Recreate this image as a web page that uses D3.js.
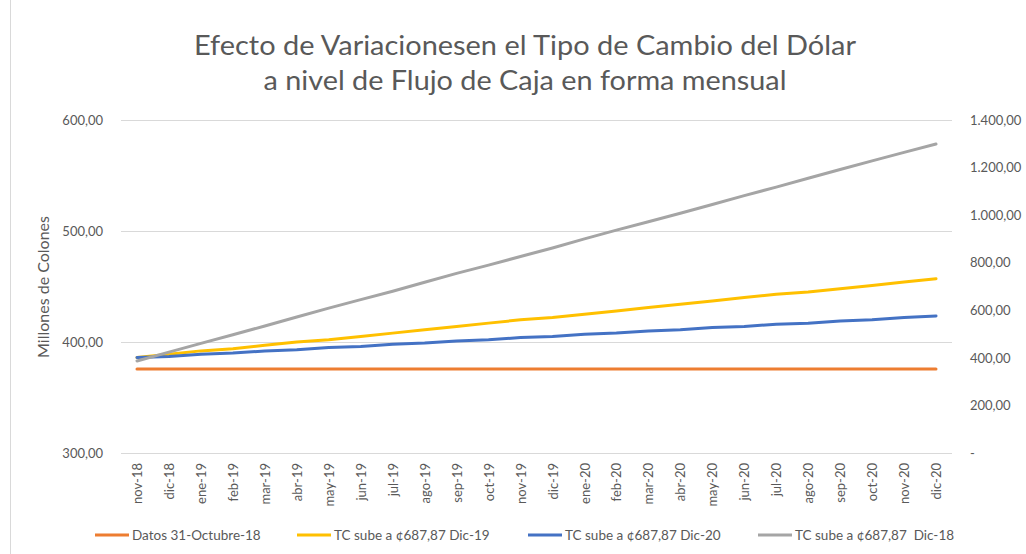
<!DOCTYPE html>
<html>
<head>
<meta charset="utf-8">
<script src="https://cdn.jsdelivr.net/npm/d3@7"></script>
<style>
  html, body { margin: 0; padding: 0; background: #ffffff; }
  svg { display: block; font-family: Lato, "Open Sans", sans-serif; }
</style>
</head>
<body>
<svg id="chart" width="1026" height="554"></svg>
<script>
// ---------------- data ----------------
const titleLines = ["Efecto de Variacionesen el Tipo de Cambio del Dólar", "a nivel de Flujo de Caja en forma mensual"];
const yAxisTitle = "Millones de Colones";

const months = ["nov-18","dic-18","ene-19","feb-19","mar-19","abr-19","may-19","jun-19","jul-19","ago-19","sep-19","oct-19","nov-19","dic-19",
                "ene-20","feb-20","mar-20","abr-20","may-20","jun-20","jul-20","ago-20","sep-20","oct-20","nov-20","dic-20"];

const leftTicks = [300, 400, 500, 600];
const rightTicks = [0, 200, 400, 600, 800, 1000, 1200, 1400];

const seriesNames = ["Datos 31-Octubre-18", "TC sube a ¢687,87 Dic-19", "TC sube a ¢687,87 Dic-20", "TC sube a ¢687,87  Dic-18"];
const seriesColors = ["#ED7D31", "#FFC000", "#4472C4", "#A5A5A5"];
const seriesAxis = ["left", "left", "left", "right"];

const datosOct18 = [375.6,375.6,375.6,375.6,375.6,375.6,375.6,375.6,375.6,375.6,375.6,375.6,375.6,375.6,375.6,375.6,375.6,375.6,375.6,375.6,375.6,375.6,375.6,375.6,375.6,375.6];
const tcDic19 = [386,389,392,394,397,400,402,405,408,411,414,417,420,422,425,428,431,434,437,440,443,445,448,451,454,457];
const tcDic20 = [386,387,389,390,392,393,395,396,398,399,401,402,404,405,407,408,410,411,413,414,416,417,419,420,422,423.5];
const tcDic18 = [387,424,461,497,534,572,609,645,680,718,755,790,826,862,900,937,972,1008,1045,1082,1118,1155,1192,1228,1264,1299];

const seriesValues = [datosOct18, tcDic19, tcDic20, tcDic18];

// ---------------- layout ----------------
const svg = d3.select("#chart");
const plot = { left: 121, right: 952, top: 120, bottom: 453 };
const textColor = "#595959";
const gridColor = "#d9d9d9";

const locale = d3.formatLocale({ decimal: ",", thousands: ".", grouping: [3], currency: ["", ""] });
const fmt = locale.format(",.2f");

const x = d3.scalePoint().domain(months).range([plot.left, plot.right]).padding(0.5);
const yL = d3.scaleLinear().domain([300, 600]).range([plot.bottom, plot.top]);
const yR = d3.scaleLinear().domain([0, 1400]).range([plot.bottom, plot.top]);

// chart border (left edge)
svg.append("line").attr("x1", 10.5).attr("x2", 10.5).attr("y1", 0).attr("y2", 554)
  .attr("stroke", gridColor).attr("stroke-width", 1);

// title
const titleWidths = [662, 523];
svg.append("g").selectAll("text").data(titleLines).join("text")
  .attr("x", 525).attr("y", (d, i) => 55 + i * 35)
  .attr("text-anchor", "middle")
  .attr("font-size", 27)
  .attr("fill", textColor)
  .attr("textLength", (d, i) => titleWidths[i])
  .attr("lengthAdjust", "spacingAndGlyphs")
  .text(d => d);

// gridlines (left axis)
svg.append("g").selectAll("line").data(leftTicks).join("line")
  .attr("x1", plot.left).attr("x2", plot.right)
  .attr("y1", d => Math.round(yL(d)) + 0.5).attr("y2", d => Math.round(yL(d)) + 0.5)
  .attr("stroke", gridColor).attr("stroke-width", 1);

// left axis
const leftAxis = d3.axisLeft(yL).tickValues(leftTicks).tickFormat(fmt).tickSize(0).tickPadding(18);
const gL = svg.append("g").attr("transform", `translate(${plot.left},0)`).call(leftAxis);
gL.select(".domain").remove();
gL.selectAll("text").attr("fill", textColor).attr("font-size", 13).attr("font-family", "Lato, sans-serif");

// right axis
const rightAxis = d3.axisRight(yR).tickValues(rightTicks)
  .tickFormat(d => d === 0 ? "-" : fmt(d)).tickSize(0).tickPadding(18);
const gR = svg.append("g").attr("transform", `translate(${plot.right},0)`).call(rightAxis);
gR.select(".domain").remove();
gR.selectAll("text").attr("fill", textColor).attr("font-size", 13).attr("font-family", "Lato, sans-serif");

// x axis labels
const xAxis = d3.axisBottom(x).tickSize(0).tickPadding(0);
const gX = svg.append("g").attr("transform", `translate(0,${plot.bottom})`).call(xAxis);
gX.select(".domain").remove();
gX.selectAll("text")
  .attr("fill", textColor).attr("font-size", 13).attr("font-family", "Lato, sans-serif")
  .attr("text-anchor", "end").attr("dy", "0.35em")
  .attr("transform", "translate(0,10) rotate(-90)")
  .attr("x", 0).attr("y", 0);

// y axis title
svg.append("text")
  .attr("transform", "translate(49,287) rotate(-90)")
  .attr("text-anchor", "middle")
  .attr("font-size", 16)
  .attr("fill", textColor)
  .text(yAxisTitle);

// lines
const linesG = svg.append("g");
seriesValues.forEach((vals, i) => {
  const ys = seriesAxis[i] === "left" ? yL : yR;
  const line = d3.line().x((d, j) => x(months[j])).y(d => ys(d));
  linesG.append("path")
    .datum(vals)
    .attr("d", line)
    .attr("fill", "none")
    .attr("stroke", seriesColors[i])
    .attr("stroke-width", 3)
    .attr("stroke-linecap", "round")
    .attr("stroke-linejoin", "round");
});

// legend
const legendX = [95, 297, 528, 758];
const legend = svg.append("g").attr("transform", "translate(0,535)");
seriesNames.forEach((name, i) => {
  const g = legend.append("g").attr("transform", `translate(${legendX[i]},0)`);
  g.append("line").attr("x1", 0).attr("x2", 34).attr("y1", 0).attr("y2", 0)
    .attr("stroke", seriesColors[i]).attr("stroke-width", 3);
  g.append("text").attr("x", 37).attr("y", 0).attr("dy", "0.35em")
    .attr("font-size", 13.5).attr("fill", textColor)
    .attr("xml:space", "preserve")
    .style("white-space", "pre")
    .text(name);
});
</script>
</body>
</html>
